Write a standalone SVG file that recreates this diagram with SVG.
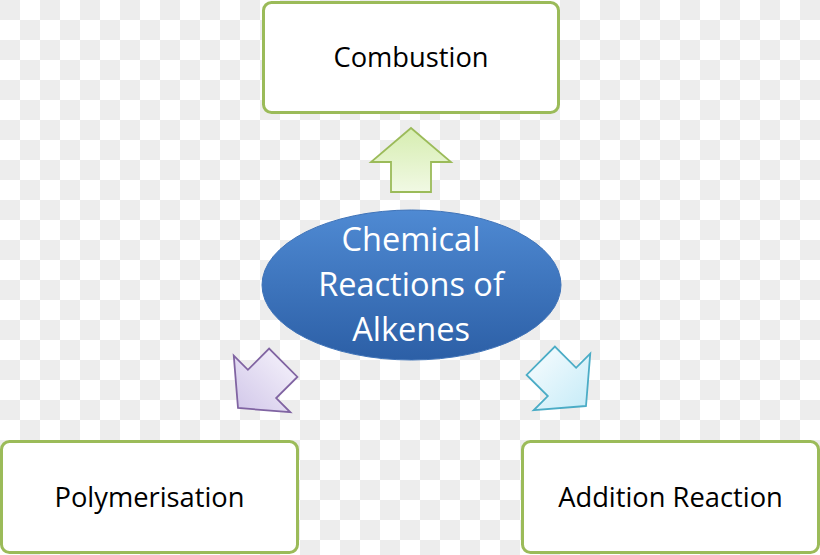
<svg xmlns="http://www.w3.org/2000/svg" width="820" height="555" viewBox="0 0 820 555">
<defs>
<pattern id="checker" width="40" height="40" patternUnits="userSpaceOnUse">
<rect width="40" height="40" fill="#ffffff"/>
<rect x="0" y="0" width="20" height="20" fill="#ededed"/>
<rect x="20" y="20" width="20" height="20" fill="#ededed"/>
</pattern>
<linearGradient id="gBlue" x1="0" y1="0" x2="0" y2="1">
<stop offset="0" stop-color="#4f8ad3"/>
<stop offset="1" stop-color="#2c5fa6"/>
</linearGradient>
<linearGradient id="gGreen" x1="0" y1="0" x2="0" y2="1">
<stop offset="0" stop-color="#d6edb0"/>
<stop offset="1" stop-color="#f1f9e4"/>
</linearGradient>
<linearGradient id="gPurple" x1="0" y1="0" x2="0" y2="1">
<stop offset="0" stop-color="#d3c9ea"/>
<stop offset="1" stop-color="#efebf8"/>
</linearGradient>
<linearGradient id="gCyan" x1="0" y1="0" x2="0" y2="1">
<stop offset="0" stop-color="#c8ecf8"/>
<stop offset="1" stop-color="#eef9fd"/>
</linearGradient>
<polygon id="blockArrow" points="0,0 40,34 20,34 20,64 -20,64 -20,34 -40,34"/>
</defs>
<style>
.box{fill:#ffffff;stroke:#9bbb59;stroke-width:3}
.lbl{font-family:"Open Sans","Liberation Sans",sans-serif;font-size:27.3px;fill:#000000;text-anchor:middle}
.center{font-family:"Open Sans","Liberation Sans",sans-serif;font-size:32.5px;fill:#ffffff;text-anchor:middle}
.arr{stroke-width:1.8;stroke-linejoin:miter}
</style>
<rect width="820" height="555" fill="url(#checker)"/>

<g id="connectors">
<use href="#blockArrow" class="arr" fill="url(#gGreen)" stroke="#9bbb59" transform="translate(411,128)"/>
<use href="#blockArrow" class="arr" fill="url(#gPurple)" stroke="#8064a2" transform="translate(238,408) rotate(-135)"/>
<use href="#blockArrow" class="arr" fill="url(#gCyan)" stroke="#4bacc6" transform="translate(586,406) rotate(135)"/>
</g>

<g id="node-combustion">
<rect class="box" x="263.5" y="2.5" width="295" height="110" rx="8"/>
<text class="lbl" x="411" y="67">Combustion</text>
</g>

<g id="node-center">
<ellipse cx="411.5" cy="285" rx="149.5" ry="75" fill="url(#gBlue)" stroke="#3f73b8" stroke-width="1"/>
<text class="center" x="411" y="251">Chemical</text>
<text class="center" x="411" y="296">Reactions of</text>
<text class="center" x="411" y="341">Alkenes</text>
</g>

<g id="node-polymerisation">
<rect class="box" x="1.5" y="441.5" width="296" height="111" rx="8"/>
<text class="lbl" x="149.5" y="507">Polymerisation</text>
</g>

<g id="node-addition">
<rect class="box" x="522.5" y="441.5" width="296" height="111" rx="8"/>
<text class="lbl" x="670.5" y="507">Addition Reaction</text>
</g>
</svg>
